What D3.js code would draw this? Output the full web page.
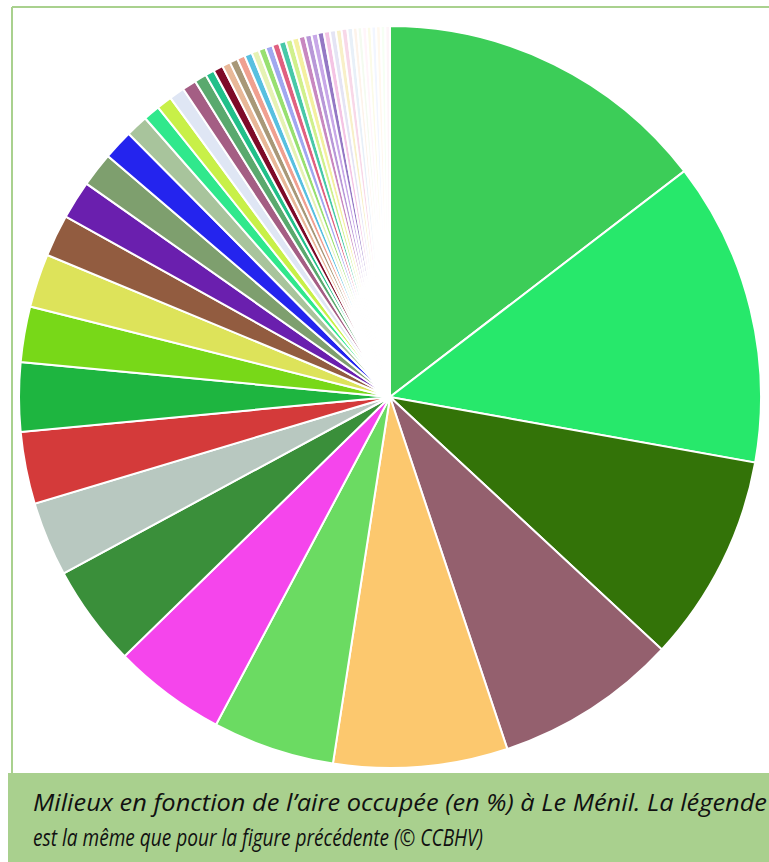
<!DOCTYPE html>
<html>
<head>
<meta charset="utf-8">
<script src="https://cdn.jsdelivr.net/npm/d3@7"></script>
<style>
  body { margin: 0; background: #fff; }
  svg { display: block; }
</style>
</head>
<body>
<div id="chart-area"></div>
<script>
// slice shares (%), clockwise from 12 o'clock
var values = [14.58, 13.25, 9.08, 7.97, 7.58, 5.31, 4.92, 4.42, 3.25, 3.14,
  3.0, 2.42, 2.33, 1.83, 1.67, 1.5, 1.31, 0.97, 0.72, 0.67,
  0.67, 0.61, 0.53, 0.39, 0.42,
  0.36, 0.35, 0.34, 0.33, 0.32, 0.31, 0.31, 0.30, 0.30, 0.29,
  0.29, 0.28, 0.28, 0.27, 0.27, 0.26, 0.26, 0.25, 0.25, 0.24,
  0.2, 0.2, 0.2, 0.2, 0.2, 0.2, 0.2, 0.2];

var colors = ["#3ccd58", "#27e86b", "#337308", "#94606e", "#fcc86e", "#6bdb62", "#f545ec", "#3a8f3a", "#b8c8c0", "#d43a3a",
  "#1eb540", "#78d818", "#dde35a", "#925c40", "#6a1fae", "#7e9f6e", "#2424ee", "#a8c49c", "#30e88c", "#c8f048",
  "#dfe6f4", "#a45e84", "#5aa96e", "#22c08a", "#7e0a28",
  "#e8b898", "#a89878", "#f0a090", "#58c0e0", "#e6f2b4", "#98e070", "#a0a8f0", "#e06080", "#48c8a8", "#d0f08c",
  "#f4f0a0", "#c888c0", "#b898d8", "#c8a8e8", "#9478c4", "#f4c4e4", "#e4e4f4", "#f8f0c8", "#f8d8e8", "#e8f0f8",
  "#fdf3ea", "#f4fbf0", "#fff5fa", "#fbfbe8", "#f2f6ff", "#fff8ee", "#f6fff4", "#fdf5f8"];

var captionLines = [
  "Milieux en fonction de l\u2019aire occup\u00e9e (en %) \u00e0 Le M\u00e9nil. La l\u00e9gende",
  "est la m\u00eame que pour la figure pr\u00e9c\u00e9dente (\u00a9 CCBHV)"
];
var captionWidths = [734, 450];

var width = 769, height = 862;
var cx = 390, cy = 397, radius = 371;

var svg = d3.select("#chart-area")
  .append("svg")
  .attr("width", width)
  .attr("height", height);

// frame
svg.append("line")
  .attr("x1", 12).attr("y1", 7).attr("x2", width).attr("y2", 7)
  .attr("stroke", "#a9d18e").attr("stroke-width", 2);
svg.append("line")
  .attr("x1", 12).attr("y1", 7).attr("x2", 12).attr("y2", 774)
  .attr("stroke", "#a9d18e").attr("stroke-width", 2);

var pie = d3.pie().sort(null).value(d => d);
var arc = d3.arc().innerRadius(0).outerRadius(radius);

var g = svg.append("g")
  .attr("transform", `translate(${cx}, ${cy})`);

g.selectAll("path")
  .data(pie(values))
  .enter()
  .append("path")
  .attr("d", arc)
  .attr("fill", (d, i) => colors[i])
  .attr("stroke", "#fff")
  .attr("stroke-width", 2);

// caption box
svg.append("rect")
  .attr("x", 8).attr("y", 773)
  .attr("width", width - 8).attr("height", height - 773)
  .attr("fill", "#a9d08e");

svg.selectAll(".caption")
  .data(captionLines)
  .enter()
  .append("text")
  .attr("class", "caption")
  .attr("x", 33)
  .attr("y", (d, i) => 811 + i * 35)
  .attr("font-family", "'Liberation Sans Narrow', 'Open Sans', sans-serif")
  .attr("font-style", "italic")
  .attr("font-size", "23px")
  .attr("fill", "#111")
  .attr("textLength", (d, i) => captionWidths[i])
  .attr("lengthAdjust", "spacingAndGlyphs")
  .text(d => d);
</script>
</body>
</html>
